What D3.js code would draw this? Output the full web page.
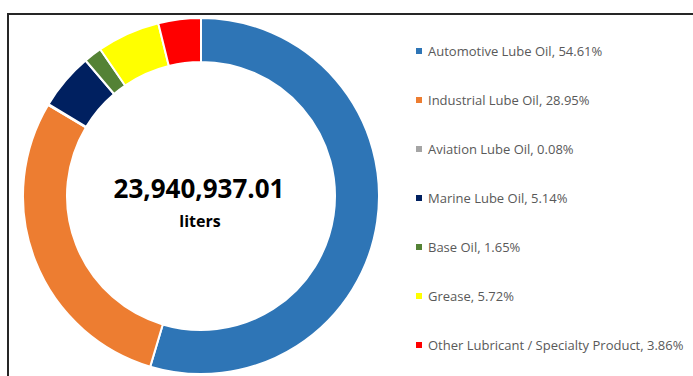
<!DOCTYPE html>
<html>
<head>
<meta charset="utf-8">
<script src="https://cdn.jsdelivr.net/npm/d3@7"></script>
<style>
  html, body { margin: 0; padding: 0; background: #fff; }
  svg { display: block; }
</style>
</head>
<body>
<svg id="chart" width="693" height="376"></svg>
<script>
// Product mix by share of total volume
const categories = [
  "Automotive Lube Oil",
  "Industrial Lube Oil",
  "Aviation Lube Oil",
  "Marine Lube Oil",
  "Base Oil",
  "Grease",
  "Other Lubricant / Specialty Product"
];
const shares = [54.61, 28.95, 0.08, 5.14, 1.65, 5.72, 3.86];
const colors = ["#2E75B6", "#ED7D31", "#A5A5A5", "#002060", "#548235", "#FFFF00", "#FF0000"];
const totalLabel = "23,940,937.01";
const unitLabel = "liters";

const data = categories.map((c, i) => ({ name: c, value: shares[i], color: colors[i] }));

const svg = d3.select("#chart");
const W = 693, H = 376;

// chart frame
svg.append("path")
  .attr("d", `M8,${H + 2} V14 H${W + 2}`)
  .attr("fill", "none")
  .attr("stroke", "#262626")
  .attr("stroke-width", 2);

const cx = 201, cy = 196, outerR = 178, innerR = 134;

const pie = d3.pie().sort(null).value(d => d.value);
const arc = d3.arc().innerRadius(innerR).outerRadius(outerR);

const g = svg.append("g").attr("transform", `translate(${cx},${cy})`);
g.selectAll("path")
  .data(pie(data))
  .join("path")
  .attr("d", arc)
  .attr("fill", d => d.data.color)
  .attr("stroke", "#fff")
  .attr("stroke-width", 2)
  .attr("stroke-linejoin", "round");

// total in the hole
g.append("text")
  .attr("x", -2).attr("y", 2)
  .attr("text-anchor", "middle")
  .attr("font-family", "'Open Sans', sans-serif")
  .attr("font-weight", "bold")
  .attr("font-size", 26)
  .attr("fill", "#000")
  .text(totalLabel);
g.append("text")
  .attr("x", -1).attr("y", 31)
  .attr("text-anchor", "middle")
  .attr("font-family", "'Open Sans', sans-serif")
  .attr("font-weight", "bold")
  .attr("font-size", 16)
  .attr("fill", "#000")
  .text(unitLabel);

// legend
const legendY = d3.scalePoint().domain(categories).range([51, 345]);
const lg = svg.append("g");
const items = lg.selectAll("g")
  .data(data)
  .join("g")
  .attr("transform", d => `translate(416,${legendY(d.name)})`);
items.append("rect")
  .attr("x", 0).attr("y", -3)
  .attr("width", 6).attr("height", 6)
  .attr("fill", d => d.color);
items.append("text")
  .attr("x", 12).attr("y", 0)
  .attr("dy", "0.35em")
  .attr("font-family", "'Open Sans', sans-serif")
  .attr("font-size", 13)
  .attr("fill", "#595959")
  .text(d => `${d.name}, ${d3.format(".2f")(d.value)}%`);
</script>
</body>
</html>
